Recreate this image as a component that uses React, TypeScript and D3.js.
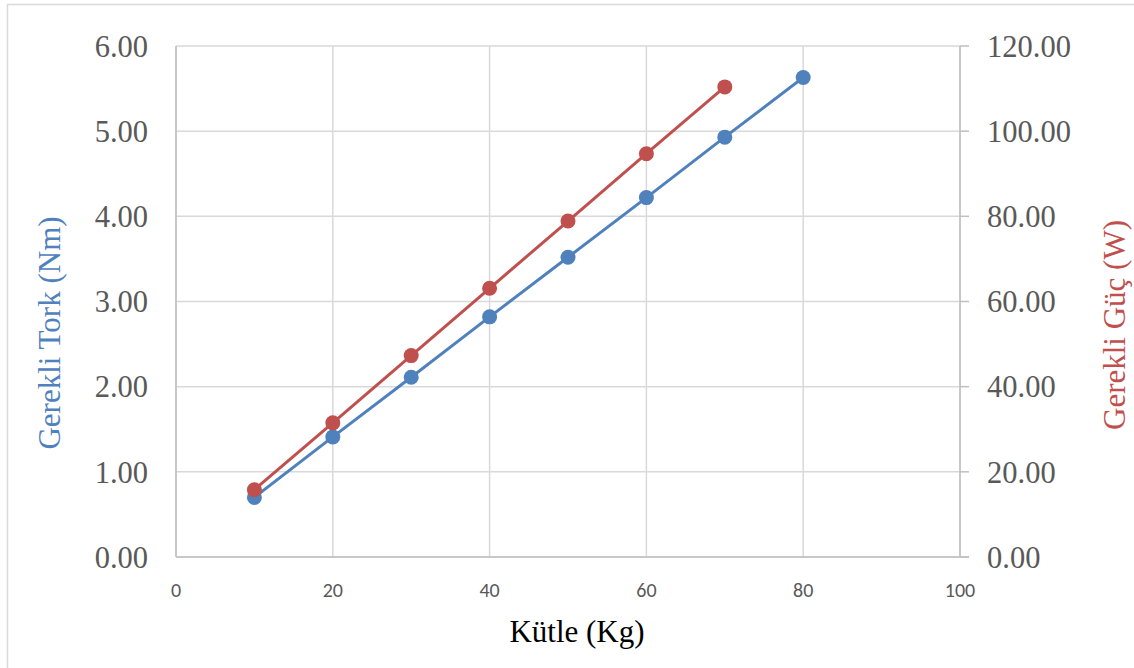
import React from "react";
import * as d3 from "d3";

const massKg = [10, 20, 30, 40, 50, 60, 70, 80];
const torqueNm = [0.70, 1.41, 2.11, 2.82, 3.52, 4.22, 4.93, 5.63];
const powerMass = [10, 20, 30, 40, 50, 60, 70];
const powerW = [15.8, 31.5, 47.3, 63.1, 78.9, 94.7, 110.4];
const xTicks = [0, 20, 40, 60, 80, 100];
const leftTicks = [0, 1, 2, 3, 4, 5, 6];
const rightTicks = [0, 20, 40, 60, 80, 100, 120];

const W = 1134, H = 668;
const L = 176, R = 960, T = 46, B = 557;

export default function App() {
  const x = d3.scaleLinear().domain([0, 100]).range([L, R]);
  const yL = d3.scaleLinear().domain([0, 6]).range([B, T]);
  const yR = d3.scaleLinear().domain([0, 120]).range([B, T]);
  const lineT = d3.line<number>().x((_, i) => x(massKg[i])).y((d) => yL(d));
  const lineP = d3.line<number>().x((_, i) => x(powerMass[i])).y((d) => yR(d));
  const blue = "#4f81bd", red = "#c0504d", grid = "#d9d9d9", axis = "#bfbfbf", txt = "#595959";
  const serif = "'Liberation Serif', 'Times New Roman', serif";
  const sans = "Carlito, 'Liberation Sans', Arial, sans-serif";
  return (
    <svg width={W} height={H} style={{ position: "absolute", left: 0, top: 0 }}>
      <rect x={0} y={0} width={W} height={H} fill="#fff" />
      <rect x={7.5} y={4.5} width={W + 20} height={H + 20} fill="none" stroke="#d9d9d9" strokeWidth={1.5} />
      {xTicks.map((t) => (
        <line key={"gx" + t} x1={x(t)} x2={x(t)} y1={T} y2={B} stroke={grid} strokeWidth={1.5} />
      ))}
      {leftTicks.map((t) => (
        <line key={"gy" + t} x1={L} x2={R} y1={yL(t)} y2={yL(t)} stroke={grid} strokeWidth={1.5} />
      ))}
      <line x1={L} x2={L} y1={T} y2={B} stroke={axis} strokeWidth={1.5} />
      <line x1={R} x2={R} y1={T} y2={B} stroke={axis} strokeWidth={1.5} />
      <line x1={L} x2={R + 9} y1={B} y2={B} stroke={axis} strokeWidth={1.5} />
      {rightTicks.map((t) => (
        <line key={"rt" + t} x1={R} x2={R + 9} y1={yR(t)} y2={yR(t)} stroke={axis} strokeWidth={1.5} />
      ))}
      {leftTicks.map((t) => (
        <text key={"lt" + t} x={148} y={yL(t)} dy="0.35em" textAnchor="end" fontFamily={serif} fontSize={30.5} fill={txt}>
          {t.toFixed(2)}
        </text>
      ))}
      {rightTicks.map((t) => (
        <text key={"rl" + t} x={987} y={yR(t)} dy="0.35em" textAnchor="start" fontFamily={serif} fontSize={30.5} fill={txt}>
          {t.toFixed(2)}
        </text>
      ))}
      {xTicks.map((t) => (
        <text key={"xl" + t} x={x(t)} y={597} textAnchor="middle" fontFamily={sans} fontSize={20} fill={txt}>
          {t}
        </text>
      ))}
      <text x={577} y={642} textAnchor="middle" fontFamily={serif} fontSize={31} fill="#000">Kütle (Kg)</text>
      <text transform={`translate(60,333) rotate(-90)`} textAnchor="middle" fontFamily={serif} fontSize={31} fill={blue}>
        Gerekli Tork (Nm)
      </text>
      <text transform={`translate(1125,325) rotate(-90)`} textAnchor="middle" fontFamily={serif} fontSize={31} fill={red}>
        Gerekli Güç (W)
      </text>
      <path d={lineT(torqueNm) || ""} fill="none" stroke={blue} strokeWidth={3} />
      {torqueNm.map((v, i) => (
        <circle key={"bt" + i} cx={x(massKg[i])} cy={yL(v)} r={7.5} fill={blue} />
      ))}
      <path d={lineP(powerW) || ""} fill="none" stroke={red} strokeWidth={3} />
      {powerW.map((v, i) => (
        <circle key={"rp" + i} cx={x(powerMass[i])} cy={yR(v)} r={7.5} fill={red} />
      ))}
    </svg>
  );
}
